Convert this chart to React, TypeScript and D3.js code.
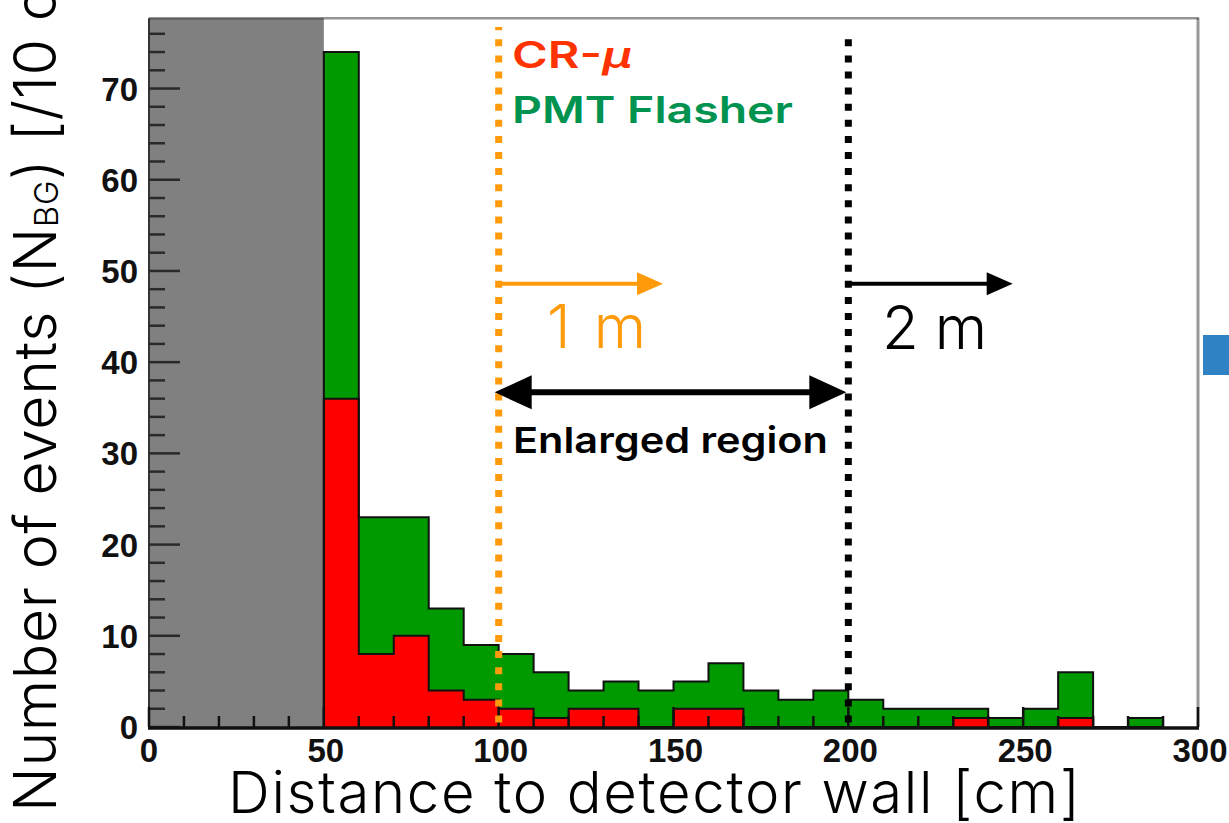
import React from 'react';
import * as d3 from 'd3';

// Histogram bins (lower edges, cm) and counts per 10 cm bin
const binStarts = [50, 60, 70, 80, 90, 100, 110, 120, 130, 140, 150, 160, 170, 180, 190, 200, 210, 220, 230, 240, 250, 260, 270, 280];
const binWidth = 10;
const crMu = [36, 8, 10, 4, 3, 2, 1, 2, 2, 0, 2, 2, 0, 0, 0, 0, 0, 0, 1, 0, 0, 1, 0, 0];
const pmtFlasher = [38, 15, 13, 9, 6, 6, 5, 2, 3, 4, 3, 5, 4, 3, 4, 3, 2, 2, 1, 1, 2, 5, 0, 1];

const xTickLabels = [0, 50, 100, 150, 200, 250, 300];
const yTickLabels = [0, 10, 20, 30, 40, 50, 60, 70];

const W = 1229;
const H = 823;
const X_MIN = 0;
const X_MAX = 300;
const Y_MAX = 77.7;
const VETO_EDGE = 50; // inner region excluded (shaded)

const ORANGE = '#ff9a0a';
const RED = '#ff0000';
const GREEN = '#009900';

export default function App() {
  const x = d3.scaleLinear().domain([X_MIN, X_MAX]).range([149, 1198]);
  const y = d3.scaleLinear().domain([0, Y_MAX]).range([727, 18.3]);

  const rows = binStarts.map((b, i) => ({ bin: b, crMu: crMu[i], pmtFlasher: pmtFlasher[i] }));
  const stacked = d3.stack<any>().keys(['crMu', 'pmtFlasher'])(rows);

  // step area for one stacked layer; last bin is closed at its upper edge
  const area = d3
    .area<any>()
    .x((d) => x(d.x))
    .y0((d) => y(d.lo))
    .y1((d) => y(d.hi))
    .curve(d3.curveStepAfter);

  const outline = d3
    .line<any>()
    .x((d) => x(d.x))
    .y((d) => y(d.v))
    .curve(d3.curveStepAfter);

  const layerPts = (layer: any) => {
    const pts = layer.map((d: any, i: number) => ({ x: binStarts[i], lo: d[0], hi: d[1] }));
    const last = layer[layer.length - 1];
    pts.push({ x: binStarts[binStarts.length - 1] + binWidth, lo: last[0], hi: last[1] });
    return pts;
  };

  const outlinePts = (layer: any) => {
    const pts = [{ x: binStarts[0], v: 0 }];
    layer.forEach((d: any, i: number) => pts.push({ x: binStarts[i], v: d[1] }));
    pts.push({ x: binStarts[binStarts.length - 1] + binWidth, v: 0 });
    return pts;
  };

  const fills = [RED, GREEN];
  const yMinor = d3.range(0, Y_MAX, 2);
  const xMinor = d3.range(X_MIN, X_MAX + 1, 10);

  const tickFont = '"Liberation Sans", Arial, Helvetica, sans-serif';
  const lightFont = 'Inter, "Noto Sans", Roboto, sans-serif';

  const dotted = (xv: number, top: number, color: string, offset: number) => (
    <line
      x1={x(xv)}
      x2={x(xv)}
      y1={top}
      y2={y(0)}
      stroke={color}
      strokeWidth={7}
      strokeDasharray="7 9.1"
      strokeDashoffset={offset}
    />
  );

  const arrowHead = (tipX: number, tipY: number, len: number, half: number, dir: number, color: string) => (
    <path
      d={`M${tipX},${tipY} L${tipX - dir * len},${tipY - half} L${tipX - dir * len},${tipY + half} Z`}
      fill={color}
    />
  );

  const arrowY1 = y(48.6);
  const arrowY2 = y(36.7);

  return (
    <>
      <style>{`body{margin:0;background:#fff}`}</style>
      <svg width={W} height={H} style={{ display: 'block' }} xmlns="http://www.w3.org/2000/svg">
        <rect x={0} y={0} width={W} height={H} fill="#fff" />

        {/* shaded region close to the wall */}
        <rect x={x(X_MIN)} y={y(Y_MAX)} width={x(VETO_EDGE) - x(X_MIN)} height={y(0) - y(Y_MAX)} fill="#808080" />

        {/* stacked histogram fills */}
        {stacked.map((layer, k) => (
          <path key={k} d={area(layerPts(layer)) || ''} fill={fills[k]} />
        ))}
        {/* step outlines */}
        {stacked.map((layer, k) => (
          <path key={'o' + k} d={outline(outlinePts(layer)) || ''} fill="none" stroke="#111" strokeWidth={2} />
        ))}

        {/* frame */}
        <line x1={x(X_MIN)} x2={x(X_MAX) + 1} y1={y(Y_MAX)} y2={y(Y_MAX)} stroke="rgba(0,0,0,0.42)" strokeWidth={2.5} />
        <line x1={x(X_MAX)} x2={x(X_MAX)} y1={y(Y_MAX)} y2={y(0)} stroke="rgba(0,0,0,0.4)" strokeWidth={3} />

        {/* y axis */}
        <line x1={x(X_MIN)} x2={x(X_MIN)} y1={y(Y_MAX)} y2={y(0)} stroke="#333" strokeWidth={2} />
        {yMinor.map((v) => (
          <line
            key={'ym' + v}
            x1={x(X_MIN)}
            x2={x(X_MIN) + (v % 10 === 0 ? 31 : 16)}
            y1={y(v)}
            y2={y(v)}
            stroke="#2a2a2a"
            strokeWidth={2.5}
          />
        ))}
        {yTickLabels.map((v) => (
          <text
            key={'yl' + v}
            x={138}
            y={y(v) + 12}
            textAnchor="end"
            fontFamily={tickFont}
            fontWeight="bold"
            fontSize={33}
            fill="#111"
          >
            {v}
          </text>
        ))}

        {/* x axis */}
        {xMinor.map((v) => (
          <line
            key={'xm' + v}
            x1={x(v)}
            x2={x(v)}
            y1={y(0)}
            y2={y(0) - (v % 50 === 0 ? 20 : 11)}
            stroke="#111"
            strokeWidth={2.5}
          />
        ))}
        <line x1={x(X_MIN) - 1} x2={x(X_MAX) + 1} y1={y(0) + 1} y2={y(0) + 1} stroke="#111" strokeWidth={3.5} />
        {xTickLabels.map((v) => (
          <text
            key={'xl' + v}
            x={x(v) + (v === 0 ? 0 : 2)}
            y={762}
            textAnchor="middle"
            fontFamily={tickFont}
            fontWeight="bold"
            fontSize={33}
            fill="#111"
          >
            {v}
          </text>
        ))}

        {/* fiducial boundaries */}
        {dotted(100, 27, ORANGE, 3.8)}
        {dotted(200, 39.3, '#000', 0)}

        {/* legend */}
        <text
          x={512}
          y={68.3}
          fontFamily={lightFont}
          fontWeight={600}
          fontSize={37}
          fill="#ff3300"
          textLength={120}
          lengthAdjust="spacingAndGlyphs"
        >
          CR-<tspan fontStyle="italic">μ</tspan>
        </text>
        <text
          x={512}
          y={123.3}
          fontFamily={lightFont}
          fontWeight={600}
          fontSize={37}
          fill="#00934f"
          textLength={281}
          lengthAdjust="spacingAndGlyphs"
        >
          PMT Flasher
        </text>

        {/* 1 m / 2 m arrows */}
        <line x1={x(100) + 1} x2={x(147) - 20} y1={arrowY1} y2={arrowY1} stroke={ORANGE} strokeWidth={4} />
        {arrowHead(x(147), arrowY1, 26, 11.5, 1, ORANGE)}
        <text x={547} y={348.3} fontFamily={lightFont} fontWeight={300} fontSize={60} fill={ORANGE} textLength={99}>
          1 m
        </text>

        <line x1={x(200) + 1} x2={x(247) - 20} y1={arrowY1} y2={arrowY1} stroke="#000" strokeWidth={4} />
        {arrowHead(x(247), arrowY1, 26, 11.5, 1, '#000')}
        <text x={882} y={349} fontFamily={lightFont} fontWeight={300} fontSize={60} fill="#000" textLength={105}>
          2 m
        </text>

        {/* enlarged region */}
        <line x1={x(100) + 20} x2={x(200) - 20} y1={arrowY2} y2={arrowY2} stroke="#000" strokeWidth={6} />
        {arrowHead(x(100) - 4, arrowY2, 37, 17, -1, '#000')}
        {arrowHead(x(200) - 2, arrowY2, 37, 17, 1, '#000')}
        <text
          x={513}
          y={452.7}
          fontFamily={lightFont}
          fontWeight={600}
          fontSize={36}
          fill="#000"
          textLength={315}
          lengthAdjust="spacingAndGlyphs"
        >
          Enlarged region
        </text>

        {/* axis titles */}
        <text x={228} y={813} fontFamily={lightFont} fontWeight={300} fontSize={58} fill="#000" textLength={852}>
          Distance to detector wall [cm]
        </text>
        <text
          transform="translate(56,812) rotate(-90)"
          fontFamily={lightFont}
          fontWeight={300}
          fontSize={59}
          letterSpacing={0.6}
          fill="#000"
        >
          Number of events (N
          <tspan fontSize={33} dy={2}>BG</tspan>
          <tspan dy={-2}>) [/10 cm]</tspan>
        </text>

        {/* neighbouring panel edge */}
        <rect x={1203} y={335} width={26} height={40} fill="#2f83c4" />
      </svg>
    </>
  );
}
